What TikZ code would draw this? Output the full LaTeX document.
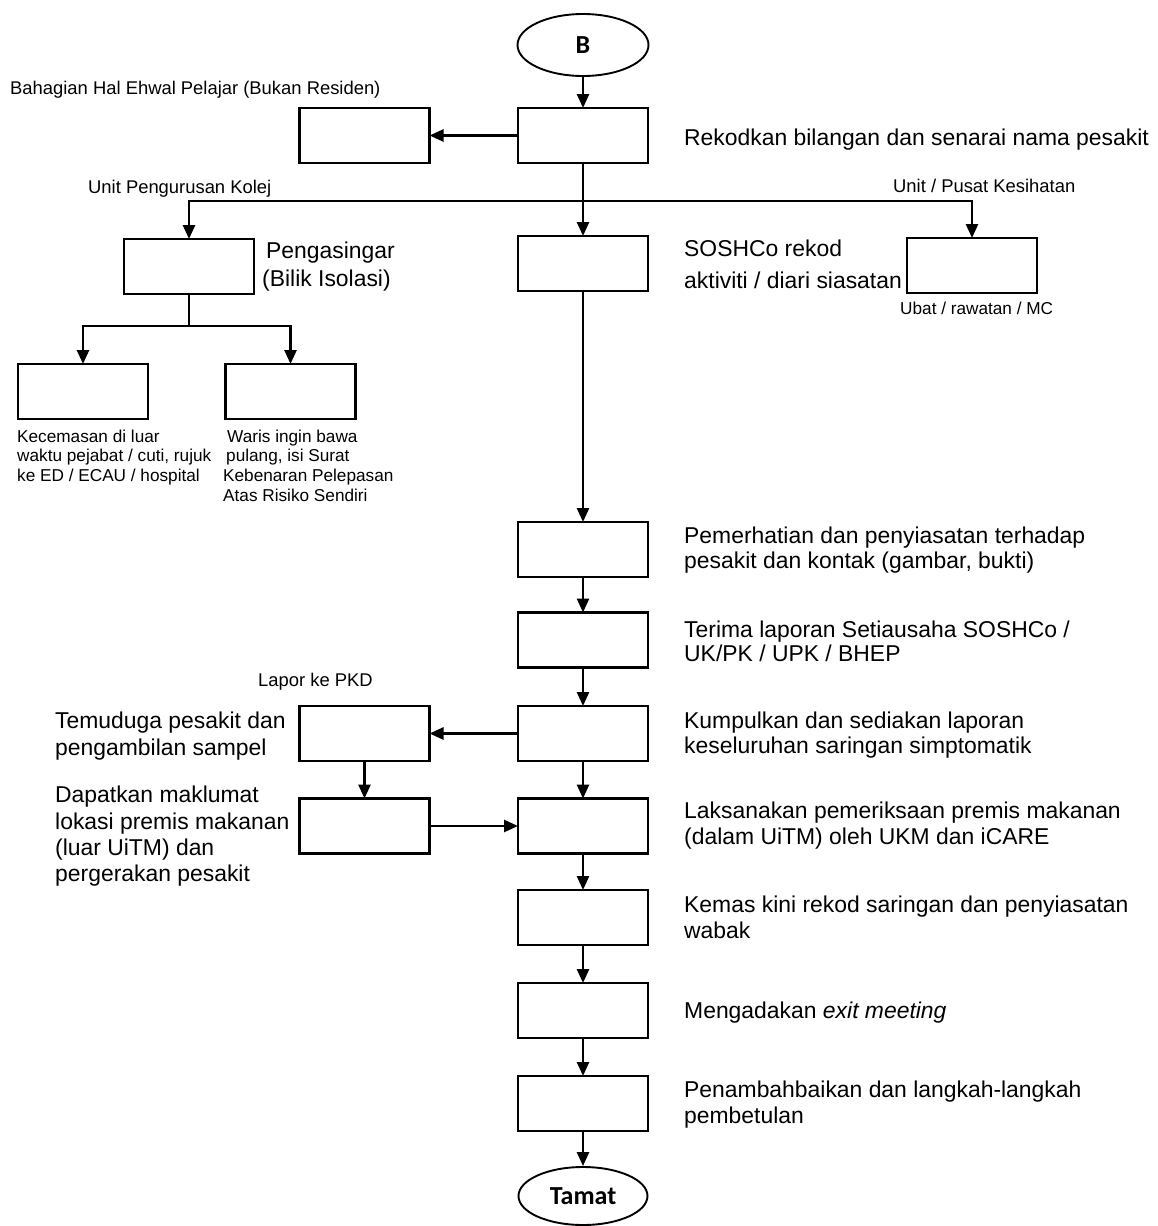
\documentclass[tikz,border=0pt]{standalone}
\usepackage{fontspec}
\setmainfont{Liberation Sans}
\newfontfamily\termfont{Carlito}
\usetikzlibrary{arrows.meta,shapes.geometric}

\begin{document}
\begin{tikzpicture}[x=1pt,y=-1pt,
  box/.style={draw, line width=2.2pt, minimum width=130pt, minimum height=55pt, inner sep=0pt, outer sep=0pt},
  term/.style={draw, ellipse, line width=1.9pt, minimum width=131pt, minimum height=62pt, inner sep=0pt,
    font=\termfont\bfseries\fontsize{26}{28}\selectfont},
  flow/.style={line width=2.6pt, -{Triangle[length=14pt,width=12pt]}},
  link/.style={line width=2.6pt},
  main/.style={font=\fontsize{22.9}{26}\selectfont, inner sep=0pt, anchor=base west},
  small/.style={font=\fontsize{18.4}{20}\selectfont, inner sep=0pt, anchor=base west},
  note/.style={font=\fontsize{17.2}{19}\selectfont, inner sep=0pt, anchor=base west}
]
\useasboundingbox (0,0) rectangle (1157,1226);

% ---- terminals and process boxes ----
\node[term] (B) at (583,45) {B};
\node[box] (r1) at (583,135.5) {};
\node[box] (bhep) at (364.5,135.5) {};
\node[box] (iso) at (189,266.5) {};
\node[box] (sos) at (583,263.5) {};
\node[box] (ukes) at (972,265.5) {};
\node[box] (k1) at (83,391.5) {};
\node[box] (k2) at (290.5,391.5) {};
\node[box] (p1) at (583,549.5) {};
\node[box] (p2) at (583,640) {};
\node[box] (p3) at (583,733.5) {};
\node[box] (t1) at (364.5,733.5) {};
\node[box] (p4) at (583,826) {};
\node[box] (t2) at (364.5,826) {};
\node[box] (p5) at (583,917.5) {};
\node[box] (p6) at (583,1010.5) {};
\node[box] (p7) at (583,1103.5) {};
\node[term, minimum height=58pt, minimum width=129pt] (end) at (583,1196) {Tamat};

% ---- connectors ----
\coordinate (split) at (583,201);
\coordinate (fork) at (189,326);
\draw[flow] (B) -- (r1);
\draw[flow] (r1.west) -- (bhep.east);
\draw[flow] (r1) -- (sos);
\draw[flow] (split) -| (iso.north);
\draw[flow] (split) -| (ukes.north);
\draw[link] (iso.south) -- (fork);
\draw[flow] (fork) -| (k1.north);
\draw[flow] (fork) -| (k2.north);
\draw[flow] (sos) -- (p1);
\draw[flow] (p1) -- (p2);
\draw[flow] (p2) -- (p3);
\draw[flow] (p3.west) -- (t1.east);
\draw[flow] (t1) -- (t2);
\draw[flow] (t2.east) -- (p4.west);
\draw[flow] (p3) -- (p4);
\draw[flow] (p4) -- (p5);
\draw[flow] (p5) -- (p6);
\draw[flow] (p6) -- (p7);
\draw[flow] (p7) -- (end);

% ---- branch labels ----
\node[small] (lbhep) at (10,94) {Bahagian Hal Ehwal Pelajar (Bukan Residen)};
\node[small] (lupk) at (88,193) {Unit Pengurusan Kolej};
\node[small] (lukes) at (893,192) {Unit / Pusat Kesihatan};
\node[note] (lubat) at (900,314) {Ubat / rawatan / MC};
\node[small] (lpkd) at (258,686) {Lapor ke PKD};

% ---- notes under the isolation branches ----
\node[note] (ka) at (17,442) {Kecemasan di luar};
\node[note] (kb) at (17,461.5) {waktu pejabat / cuti, rujuk};
\node[note] (kc) at (17,481) {ke ED / ECAU / hospital};
\node[note] (wa) at (227,442) {Waris ingin bawa};
\node[note] (wb) at (226,461.5) {pulang, isi Surat};
\node[note] (wc) at (223,481) {Kebenaran Pelepasan};
\node[note] (wd) at (223,501) {Atas Risiko Sendiri};

% ---- step descriptions ----
\node[main] (d1) at (684,145) {Rekodkan bilangan dan senarai nama pesakit};
\node[main] (ia) at (266,258) {Pengasingar};
\node[main] (ib) at (262,286) {(Bilik Isolasi)};
\node[main] (sa) at (684,256) {SOSHCo rekod};
\node[main] (sb) at (684,288) {aktiviti / diari siasatan};
\node[main] (d2a) at (684,543) {Pemerhatian dan penyiasatan terhadap};
\node[main] (d2b) at (684,568) {pesakit dan kontak (gambar, bukti)};
\node[main] (d3a) at (684,637) {Terima laporan Setiausaha SOSHCo /};
\node[main] (d3b) at (684,661) {UK/PK / UPK / BHEP};
\node[main] (d4a) at (684,728) {Kumpulkan dan sediakan laporan};
\node[main] (d4b) at (684,753) {keseluruhan saringan simptomatik};
\node[main] (d5a) at (684,818) {Laksanakan pemeriksaan premis makanan};
\node[main] (d5b) at (684,844) {(dalam UiTM) oleh UKM dan iCARE};
\node[main] (d6a) at (684,912) {Kemas kini rekod saringan dan penyiasatan};
\node[main] (d6b) at (684,938) {wabak};
\node[main] (d7) at (684,1018) {Mengadakan \textit{exit meeting}};
\node[main] (d8a) at (684,1097) {Penambahbaikan dan langkah-langkah};
\node[main] (d8b) at (684,1123) {pembetulan};
\node[main] (ta) at (55,728) {Temuduga pesakit dan};
\node[main] (tb) at (55,755) {pengambilan sampel};
\node[main] (ua) at (55,802) {Dapatkan maklumat};
\node[main] (ub) at (55,829) {lokasi premis makanan};
\node[main] (uc) at (55,855) {(luar UiTM) dan};
\node[main] (ud) at (55,881) {pergerakan pesakit};
\end{tikzpicture}
\end{document}
